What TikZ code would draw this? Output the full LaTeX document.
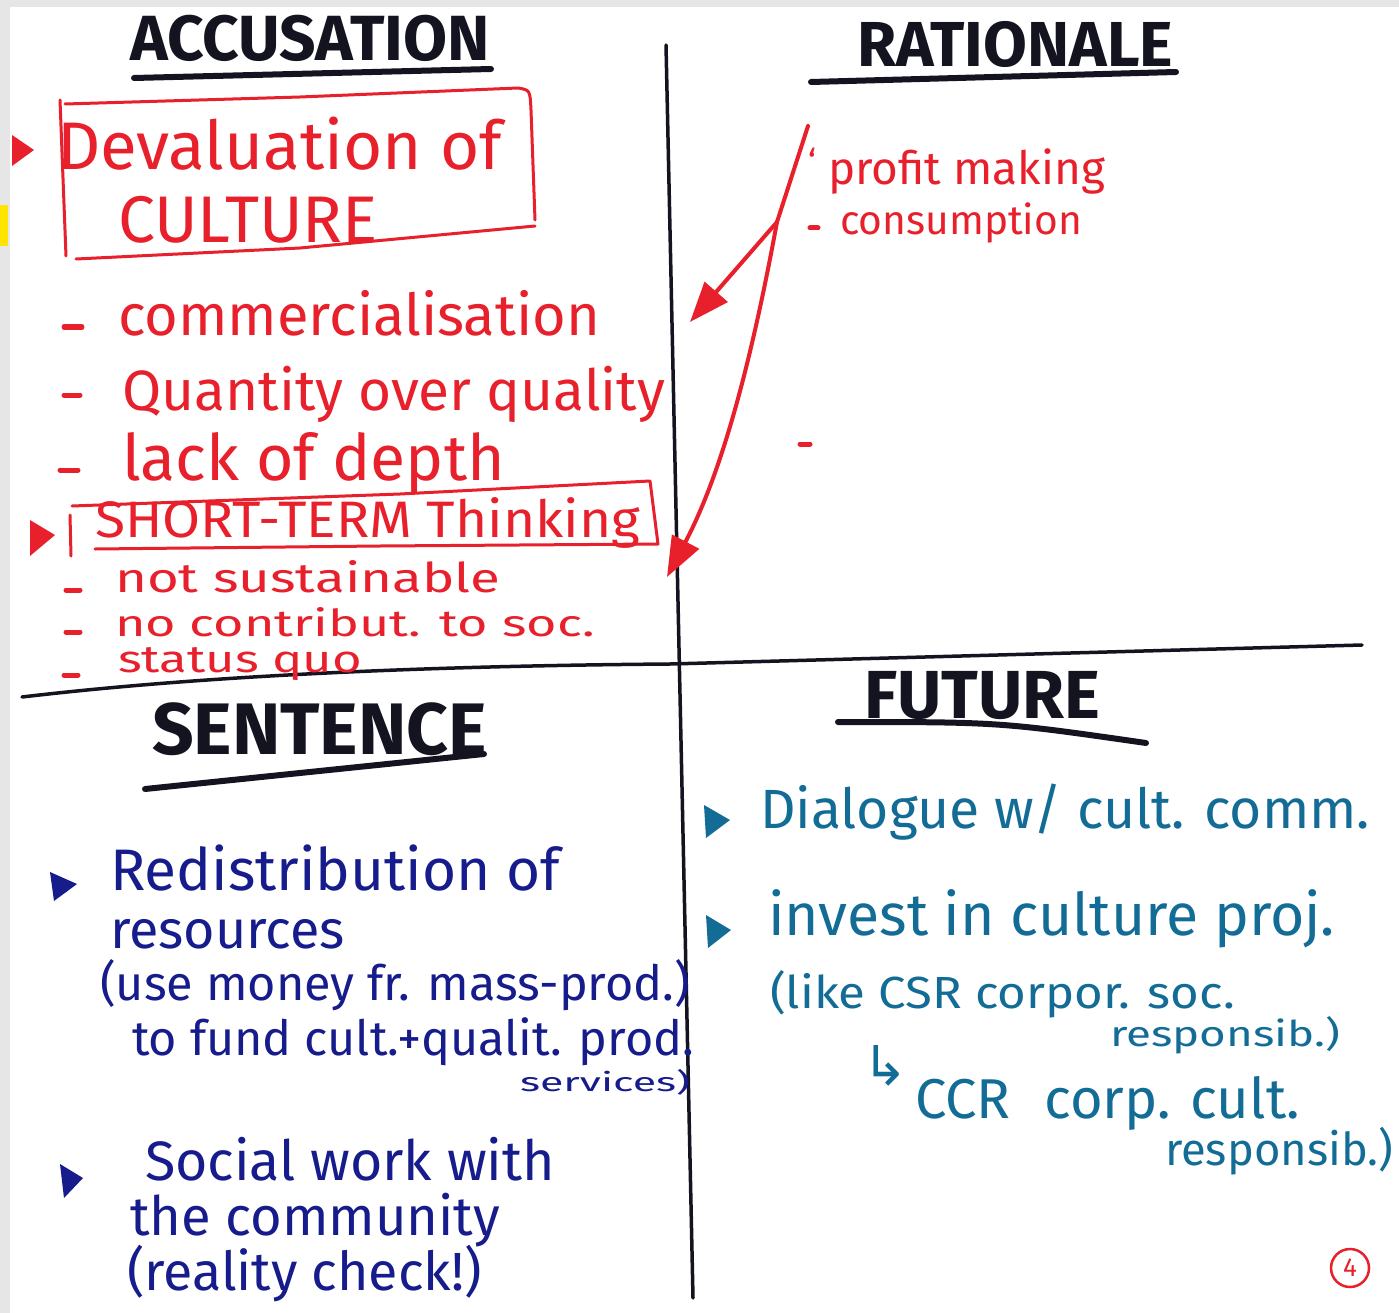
\documentclass[tikz,border=0pt]{standalone}
\usepackage{fontspec}
\setmainfont{Fira Sans}
\newfontfamily\symfont{DejaVu Sans}
\usepackage{graphicx}
\usetikzlibrary{arrows.meta}
\definecolor{mred}{RGB}{232,32,44}
\definecolor{mblue}{RGB}{22,28,140}
\definecolor{mteal}{RGB}{18,108,150}
\definecolor{mink}{RGB}{20,20,32}
\definecolor{mgray}{RGB}{230,230,230}
\definecolor{myel}{RGB}{255,228,0}
\newcommand{\fitw}[2]{\resizebox{#1pt}{!}{#2}}
\newcommand{\fitwh}[3]{\resizebox{#1pt}{#2pt}{#3}}
\tikzset{
  txt/.style={anchor=base west, inner sep=0pt, outer sep=0pt, font=\fontsize{40}{48}\selectfont},
  head/.style={txt, text=mink, font=\fontsize{40}{48}\selectfont\bfseries},
  rtxt/.style={txt, text=mred},
  btxt/.style={txt, text=mblue},
  ttxt/.style={txt, text=mteal},
  uline/.style={draw=mink, line width=6pt, line cap=round},
  divider/.style={draw=mink, line width=3.5pt, line cap=round},
  rline/.style={draw=mred, line width=3pt, line cap=round, line join=round},
  rdash/.style={draw=mred, line width=5pt, line cap=round},
  rarrow/.style={draw=mred, line width=4pt, line cap=round, -{Triangle[length=40pt,width=30pt]}},
}
\begin{document}
\begin{tikzpicture}[x=1pt,y=-1pt]
% background and margins
\fill[mgray] (0,0) rectangle (1399,1313);
\fill[white] (10,7) rectangle (1399,1313);
\fill[myel] (0,205) rectangle (8,246);
\useasboundingbox (0,0) rectangle (1399,1313);

% dividers
\draw[divider] (666,45) -- (693,1298);
\draw[divider] (22,697) .. controls (200,676) and (420,666) .. (670,664) -- (1362,645);

% headings
\node[head] (acc) at (130,61) {\fitw{360}{ACCUSATION}};
\draw[uline] (134,78) -- (491,69);
\node[head] (rat) at (857,67) {\fitw{316}{RATIONALE}};
\draw[uline] (811,82) -- (1176,72);
\node[head] (sen) at (152,754) {\fitw{335}{SENTENCE}};
\draw[uline] (145,789) -- (484,754);
\node[head] (fut) at (864,718) {\fitw{236}{FUTURE}};
\draw[uline] (838,722) .. controls (1000,722) .. (1146,743);

% ===== Accusation =====
\fill[mred] (12,135) -- (34,150) -- (12,166) -- cycle;
\draw[rline] (60,100) -- (66,256);
\draw[rline] (65,104) -- (300,97) -- (518,88) .. controls (530,90) .. (531,110) -- (535,220);
\draw[rline] (76,259) -- (300,248) -- (535,226);
\node[rtxt] (deval) at (57,170) {\fitw{445}{Devaluation of}};
\node[rtxt] (cult) at (118,243) {\fitw{260}{CULTURE}};

\draw[rdash] (64,327) -- (82,327);
\node[rtxt] (comm) at (118,335) {\fitw{482}{commercialisation}};
\draw[rdash] (64,395) -- (80,395);
\node[rtxt] (quant) at (122,410) {\fitw{543}{Quantity over quality}};
\draw[rdash] (60,470) -- (78,470);
\node[rtxt] (lack) at (122,480) {\fitwh{383}{48}{lack of depth}};

\fill[mred] (30,520) -- (55,535) -- (30,556) -- cycle;
\draw[rline] (70,515) -- (71,556);
\draw[rline] (72,506) -- (400,494) -- (650,481) -- (658,544) -- (380,546) -- (95,549);
\node[rtxt] (short) at (95,537) {\fitwh{545}{40}{SHORT-TERM Thinking}};

\draw[rdash] (66,590) -- (80,590);
\node[rtxt] (nots) at (115,592) {\fitwh{385}{32}{not sustainable}};
\draw[rdash] (66,632) -- (80,632);
\node[rtxt] (nocon) at (115,636) {\fitwh{480}{29}{no contribut. to soc.}};
\draw[rdash] (64,675) -- (78,675);
\node[rtxt] (stat) at (118,672) {\fitwh{244}{25}{status quo}};

% ===== Rationale =====
\node[rtxt] (tick) at (808,175) {\fitw{8}{`}};
\node[rtxt] (profit) at (828,185) {\fitw{277}{profit making}};
\draw[rdash] (810,228) -- (818,228);
\node[rtxt] (cons) at (840,235) {\fitw{242}{consumption}};
\draw[rdash] (800,444) -- (810,444);

\coordinate (rs) at (808,126);
\coordinate (rb) at (777,222);
\coordinate (t1) at (690,322);
\coordinate (t2) at (667,577);
\draw[rline, line width=4pt] (rs) -- (rb);
\draw[rarrow] (rb) -- (t1);
\draw[rarrow] (rb) .. controls (748,380) and (718,480) .. (t2);

% ===== Sentence =====
\fill[mblue] (50,872) -- (77,884) -- (54,901) -- cycle;
\node[btxt] (redis) at (110,890) {\fitw{450}{Redistribution of}};
\node[btxt] (res) at (110,948) {\fitw{235}{resources}};
\node[btxt] (use) at (100,1000) {\fitw{590}{(use money fr. mass-prod.)}};
\node[btxt] (fund) at (132,1055) {\fitw{562}{to fund cult.+qualit. prod.}};
\node[btxt] (serv) at (520,1091) {\fitwh{170}{22}{services)}};

\fill[mblue] (60,1164) -- (83,1178) -- (64,1198) -- cycle;
\node[btxt] (soc) at (145,1180) {\fitw{410}{Social work with}};
\node[btxt] (comty) at (130,1235) {\fitw{370}{the community}};
\node[btxt] (real) at (127,1290) {\fitw{355}{(reality check!)}};

% ===== Future =====
\fill[mteal] (704,805) -- (730,820) -- (706,838) -- cycle;
\node[ttxt] (dial) at (760,828) {\fitw{610}{Dialogue w/ cult. comm.}};
\fill[mteal] (706,915) -- (731,930) -- (708,948) -- cycle;
\node[ttxt] (inv) at (768,935) {\fitw{567}{invest in culture proj.}};
\node[ttxt] (csr) at (770,1008) {\fitwh{465}{38}{(like CSR corpor. soc.}};
\node[ttxt] (resp1) at (1110,1046) {\fitwh{230}{30}{responsib.)}};
\node[ttxt] (arr) at (862,1085) {\fitw{46}{\symfont ↳}};
\node[ttxt] (ccr) at (915,1118) {\fitw{385}{CCR\hspace{0.6em}corp. cult.}};
\node[ttxt] (resp2) at (1165,1165) {\fitw{228}{responsib.)}};

\draw[mred, line width=2.5pt] (1350,1268) circle (19);
\node[anchor=center, text=mred, font=\fontsize{26}{30}\selectfont] (four) at (1350,1268) {4};
\end{tikzpicture}
\end{document}
